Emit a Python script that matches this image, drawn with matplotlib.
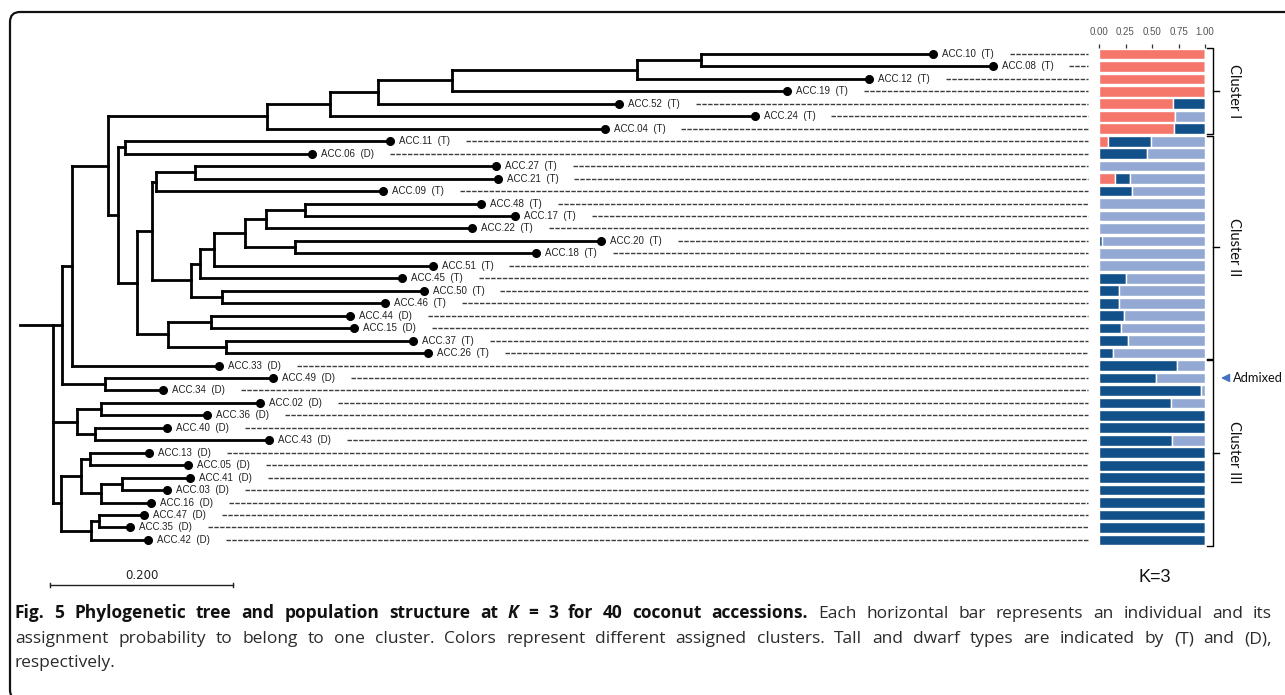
import matplotlib
matplotlib.use("Agg")
import matplotlib.pyplot as plt
from matplotlib.patches import FancyBboxPatch
from matplotlib.collections import LineCollection

# ---------------- data ----------------
TREE_NEWICK = (
    "((((((((((ACC.10:0.254,ACC.08:0.319):0.070,ACC.12:0.254):0.202,ACC.19:0.366):0.081,"
    "ACC.52:0.264):0.052,ACC.24:0.464):0.069,ACC.04:0.369):0.174,"
    "((ACC.11:0.289,ACC.06:0.204):0.008,"
    "((((ACC.27:0.329,ACC.21:0.331):0.042,ACC.09:0.248):0.005,"
    "((((((ACC.48:0.193,ACC.17:0.230):0.042,ACC.22:0.225):0.023,(ACC.20:0.334,ACC.18:0.263):0.055):0.034,"
    "ACC.51:0.239):0.015,ACC.45:0.221):0.010,"
    "(ACC.50:0.220,ACC.46:0.178):0.034):0.043):0.016,"
    "((ACC.44:0.152,ACC.15:0.156):0.047,(ACC.37:0.205,ACC.26:0.221):0.063):0.034):0.021):0.011):0.039,"
    "ACC.33:0.161):0.011,"
    "(ACC.49:0.184,ACC.34:0.063):0.047):0.010,"
    "((ACC.02:0.174,ACC.36:0.116):0.026,(ACC.40:0.079,ACC.43:0.190):0.020):0.026,"
    "(((ACC.13:0.064,ACC.05:0.107):0.010,((ACC.41:0.074,ACC.03:0.049):0.024,ACC.16:0.055):0.021):0.022,"
    "((ACC.47:0.050,ACC.35:0.034):0.008,ACC.42:0.062):0.033):0.009):0.036;"
)

ACCESSIONS = ["ACC.10", "ACC.08", "ACC.12", "ACC.19", "ACC.52", "ACC.24", "ACC.04",
              "ACC.11", "ACC.06", "ACC.27", "ACC.21", "ACC.09", "ACC.48", "ACC.17",
              "ACC.22", "ACC.20", "ACC.18", "ACC.51", "ACC.45", "ACC.50", "ACC.46",
              "ACC.44", "ACC.15", "ACC.37", "ACC.26", "ACC.33", "ACC.49", "ACC.34",
              "ACC.02", "ACC.36", "ACC.40", "ACC.43", "ACC.13", "ACC.05", "ACC.41",
              "ACC.03", "ACC.16", "ACC.47", "ACC.35", "ACC.42"]
TYPES = ["T", "T", "T", "T", "T", "T", "T",
         "T", "D", "T", "T", "T", "T", "T",
         "T", "T", "T", "T", "T", "T", "T",
         "D", "D", "T", "T", "D", "D", "D",
         "D", "D", "D", "D", "D", "D", "D",
         "D", "D", "D", "D", "D"]

# admixture proportions (K=3), in leaf order
Q_CLUSTER_I = [1.00, 1.00, 1.00, 1.00, 0.70, 0.72, 0.71,
               0.085, 0.00, 0.00, 0.15, 0.00, 0.00, 0.00,
               0.00, 0.00, 0.00, 0.00, 0.00, 0.00, 0.00,
               0.00, 0.00, 0.00, 0.00, 0.00, 0.00, 0.00,
               0.00, 0.00, 0.00, 0.00, 0.00, 0.00, 0.00,
               0.00, 0.00, 0.00, 0.00, 0.00]
Q_CLUSTER_III = [0.00, 0.00, 0.00, 0.00, 0.30, 0.00, 0.29,
                 0.41, 0.45, 0.00, 0.14, 0.31, 0.00, 0.00,
                 0.00, 0.03, 0.00, 0.00, 0.25, 0.19, 0.19,
                 0.24, 0.21, 0.27, 0.13, 0.74, 0.54, 0.96,
                 0.68, 1.00, 1.00, 0.69, 1.00, 1.00, 1.00,
                 1.00, 1.00, 1.00, 1.00, 1.00]
Q_CLUSTER_II = [0.00, 0.00, 0.00, 0.00, 0.00, 0.28, 0.00,
                0.505, 0.55, 1.00, 0.71, 0.69, 1.00, 1.00,
                1.00, 0.97, 1.00, 1.00, 0.75, 0.81, 0.81,
                0.76, 0.79, 0.73, 0.87, 0.26, 0.46, 0.04,
                0.32, 0.00, 0.00, 0.31, 0.00, 0.00, 0.00,
                0.00, 0.00, 0.00, 0.00, 0.00]

CLUSTERS = ["Cluster I", "Cluster II", "Cluster III"]
CLUSTER_ROWS = [(0, 6), (7, 24), (25, 39)]
ADMIXED_ROW = 26
BAR_TICKS = [0.00, 0.25, 0.50, 0.75, 1.00]
SCALE_LEN = 0.200

COL_I = "#F5766B"
COL_III = "#12508A"
COL_II = "#93A8D2"

# ---------------- figure ----------------
W, H = 1285, 695
fig = plt.figure(figsize=(W / 100, H / 100), dpi=100)

ROW0_PX, ROW_PX = 54.0, 12.46
top_px = ROW0_PX - 0.5 * ROW_PX
bot_px = ROW0_PX + 39.5 * ROW_PX
ax_bottom = 1 - bot_px / H
ax_height = (bot_px - top_px) / H

PX_PER_UNIT = 915.0
ROOT_PX = 20.0

ax = fig.add_axes([0, ax_bottom, 1, ax_height])
ax.set_xlim(-ROOT_PX / PX_PER_UNIT, (W - ROOT_PX) / PX_PER_UNIT)
ax.set_ylim(39.5, -0.5)
ax.axis("off")


def parse_newick(s):
    s = s.strip().rstrip(";")
    pos = 0

    def node():
        nonlocal pos
        children = []
        if s[pos] == "(":
            pos += 1
            while True:
                children.append(node())
                if s[pos] == ",":
                    pos += 1
                    continue
                if s[pos] == ")":
                    pos += 1
                    break
        st = pos
        while pos < len(s) and s[pos] not in ":,()":
            pos += 1
        name = s[st:pos]
        length = 0.0
        if pos < len(s) and s[pos] == ":":
            pos += 1
            st = pos
            while pos < len(s) and s[pos] not in ",()":
                pos += 1
            length = float(s[st:pos])
        return {"name": name, "len": length, "children": children}

    return node()


root = parse_newick(TREE_NEWICK)
leaves = []


def layout(n, x0):
    n["x"] = x0 + n["len"]
    if not n["children"]:
        n["y"] = float(len(leaves))
        leaves.append(n)
    else:
        for c in n["children"]:
            layout(c, n["x"])
        n["y"] = (n["children"][0]["y"] + n["children"][-1]["y"]) / 2


layout(root, 0.0)

segs = []


def collect(n):
    if n["children"]:
        ys = [c["y"] for c in n["children"]]
        segs.append([(n["x"], min(ys)), (n["x"], max(ys))])
        for c in n["children"]:
            segs.append([(n["x"], c["y"]), (c["x"], c["y"])])
            collect(c)


collect(root)
stub_y = root["children"][0]["y"]
segs.append([(0.0, stub_y), (root["x"], stub_y)])
ax.add_collection(LineCollection(segs, colors="black", linewidths=2.0,
                                 capstyle="projecting"))

type_of = dict(zip(ACCESSIONS, TYPES))
lx = [lf["x"] for lf in leaves]
ly = [lf["y"] for lf in leaves]
ax.plot(lx, ly, "o", ms=5.5, color="black", zorder=3)

labels = []
for lf in leaves:
    t = ax.text(lf["x"] + 9 / PX_PER_UNIT, lf["y"], f"{lf['name']}  ({type_of[lf['name']]})",
                ha="left", va="center", fontsize=7, family="Liberation Sans", color="#222222")
    labels.append(t)

fig.canvas.draw()
renderer = fig.canvas.get_renderer()
inv = ax.transData.inverted()
LEADER_END_PX = 1088
for lf, t in zip(leaves, labels):
    bb = t.get_window_extent(renderer)
    x_start = inv.transform((bb.x1 + 16, 0))[0]
    x_end = inv.transform((LEADER_END_PX, 0))[0]
    ax.plot([x_start, x_end], [lf["y"], lf["y"]], ls=(0, (3.2, 1.0)), lw=1.0,
            color="#3c3c3c")

# scale bar
sb_x0 = (50 - ROOT_PX) / PX_PER_UNIT
sb_y = (585 - ROW0_PX) / ROW_PX
ax.plot([sb_x0, sb_x0 + SCALE_LEN], [sb_y, sb_y], color="#222222", lw=1.0, clip_on=False)
for xx in (sb_x0, sb_x0 + SCALE_LEN):
    ax.plot([xx, xx], [sb_y - 0.2, sb_y + 0.2], color="#222222", lw=1.0, clip_on=False)
ax.text(sb_x0 + SCALE_LEN / 2, sb_y - 0.75, f"{SCALE_LEN:.3f}", ha="center", va="center",
        fontsize=8.5, family="DejaVu Sans", color="#222222", clip_on=False)

# ---------------- admixture bars ----------------
axb = fig.add_axes([1099 / W, ax_bottom, 106 / W, ax_height])
axb.set_xlim(0, 1)
axb.set_ylim(39.5, -0.5)
rows = list(range(len(ACCESSIONS)))
left = [0.0] * len(rows)
for vals, col in ((Q_CLUSTER_I, COL_I), (Q_CLUSTER_III, COL_III), (Q_CLUSTER_II, COL_II)):
    axb.barh(rows, vals, left=left, height=0.86, color=col, edgecolor="white", linewidth=1.0)
    left = [a + b for a, b in zip(left, vals)]
for sp in axb.spines.values():
    sp.set_visible(False)
axb.set_yticks([])
axb.xaxis.tick_top()
axb.set_xticks(BAR_TICKS)
axb.set_xticklabels([f"{v:.2f}" for v in BAR_TICKS])
axb.tick_params(axis="x", length=3, width=0.9, color="#333333", pad=5,
                labelsize=7, labelcolor="#555555")
for lab in axb.get_xticklabels():
    lab.set_family("Liberation Sans")

# brackets
xv = (1213 - 1099) / 106
xh = (1207 - 1099) / 106
xt = (1219 - 1099) / 106
for name, (r0, r1) in zip(CLUSTERS, CLUSTER_ROWS):
    y0, y1 = r0 - 0.45, r1 + 0.45
    ym = (r0 + r1) / 2
    axb.plot([xh, xv, xv, xh], [y0, y0, y1, y1], color="black", lw=1.0, clip_on=False)
    axb.plot([xv, xt], [ym, ym], color="black", lw=1.0, clip_on=False)
    axb.text(1.275, ym, name, rotation=270, ha="center", va="center", fontsize=10.5,
             family="Lato", color="#111111", clip_on=False)

axb.annotate("", xy=(1.125, ADMIXED_ROW), xytext=(1.215, ADMIXED_ROW),
             arrowprops=dict(arrowstyle="-|>,head_length=0.5,head_width=0.25",
                             color="#4472C4", lw=1.0), annotation_clip=False)
axb.text(1.262, ADMIXED_ROW, "Admixed", ha="left", va="center", fontsize=9.3,
         family="Lato", color="#111111", clip_on=False)

axb.text(0.53, (577 - ROW0_PX) / ROW_PX, "K=3", ha="center", va="center", fontsize=13,
         family="Liberation Sans", color="#111111", clip_on=False)

# ---------------- frame ----------------
frame = FancyBboxPatch((0.10, -0.05), 13.5, (H - 12) / 100 + 0.05,
                       boxstyle="round,pad=0,rounding_size=0.1",
                       transform=fig.dpi_scale_trans, fill=False, lw=1.6, ec="#111111")
fig.add_artist(frame)

# ---------------- caption ----------------
CAP_FS = 12.5
line1 = ([(w, "bold", "normal") for w in ["Fig.", "5", "Phylogenetic", "tree", "and",
                                            "population", "structure", "at"]]
         + [("K", "bold", "italic")]
         + [(w, "bold", "normal") for w in ["=", "3", "for", "40", "coconut", "accessions."]]
         + [(w, "normal", "normal") for w in ["Each", "horizontal", "bar", "represents",
                                              "an", "individual", "and", "its"]])
line2 = [(w, "normal", "normal") for w in
         "assignment probability to belong to one cluster. Colors represent different "
         "assigned clusters. Tall and dwarf types are indicated by (T) and (D),".split()]
line3 = [("respectively.", "normal", "normal")]


def draw_line(words, y_px, x0, x1, justify):
    objs = []
    for w, wt, st in words:
        t = fig.text(0, 1 - y_px / H, w, fontsize=CAP_FS, family="Open Sans", weight=wt,
                     style=st, ha="left", va="baseline",
                     color="#111111" if wt == "bold" else "#2a2a2a")
        objs.append(t)
    r = fig.canvas.get_renderer()
    widths = [t.get_window_extent(r).width for t in objs]
    if justify and len(objs) > 1:
        gap = (x1 - x0 - sum(widths)) / (len(objs) - 1)
    else:
        gap = CAP_FS * 0.36
    x = x0
    for t, wd in zip(objs, widths):
        t.set_x(x / W)
        x += wd + gap


draw_line(line1, 618, 15, 1272, True)
draw_line(line2, 643, 15, 1272, True)
draw_line(line3, 667, 15, 1272, False)

fig.savefig("out.png", dpi=100)
